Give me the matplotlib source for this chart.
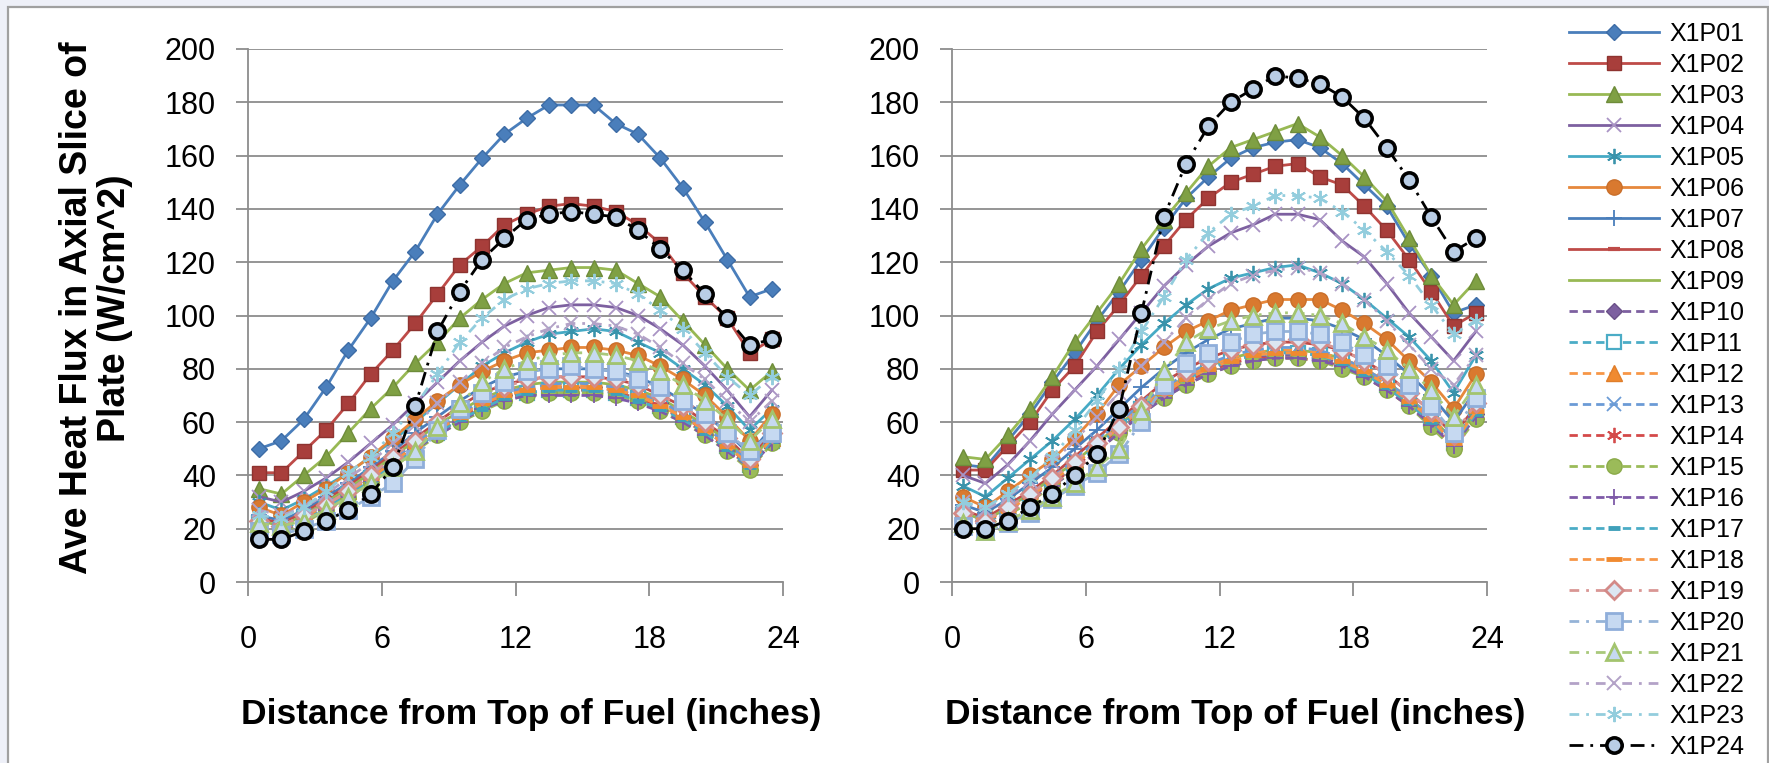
import matplotlib
matplotlib.use("Agg")
import matplotlib.pyplot as plt
from matplotlib.patches import Rectangle

W, H = 1769, 763

# ---------------- data ----------------
x_in = [0.5, 1.5, 2.5, 3.5, 4.5, 5.5, 6.5, 7.5, 8.5, 9.5, 10.5, 11.5,
        12.5, 13.5, 14.5, 15.5, 16.5, 17.5, 18.5, 19.5, 20.5, 21.5, 22.5, 23.5]

labels = ["X1P01", "X1P02", "X1P03", "X1P04", "X1P05", "X1P06", "X1P07", "X1P08",
          "X1P09", "X1P10", "X1P11", "X1P12", "X1P13", "X1P14", "X1P15", "X1P16",
          "X1P17", "X1P18", "X1P19", "X1P20", "X1P21", "X1P22", "X1P23", "X1P24"]

x_ticks = [0, 6, 12, 18, 24]
y_ticks = [0, 20, 40, 60, 80, 100, 120, 140, 160, 180, 200]

# left panel
L01 = [50, 53, 61, 73, 87, 99, 113, 124, 138, 149, 159, 168, 174, 179, 179, 179, 172, 168, 159, 148, 135, 121, 107, 110]
L02 = [41, 41, 49, 57, 67, 78, 87, 97, 108, 119, 126, 134, 138, 141, 142, 141, 139, 134, 127, 116, 107, 99, 86, 91]
L03 = [35, 33, 40, 47, 56, 65, 73, 82, 90, 99, 106, 112, 116, 117, 118, 118, 117, 112, 107, 98, 89, 80, 72, 79]
L04 = [32, 30, 34, 39, 45, 52, 59, 67, 75, 83, 90, 96, 100, 103, 104, 104, 103, 100, 95, 89, 81, 72, 62, 72]
L05 = [30, 27, 31, 36, 41, 47, 53, 60, 67, 74, 81, 86, 90, 93, 94, 95, 94, 90, 86, 80, 74, 66, 57, 65]
L06 = [28, 25, 30, 35, 41, 47, 54, 61, 68, 74, 79, 83, 86, 87, 88, 88, 87, 85, 81, 76, 70, 62, 53, 63]
L07 = [25, 23, 27, 32, 37, 43, 49, 56, 62, 68, 73, 77, 79, 80, 80, 80, 79, 77, 73, 68, 63, 56, 48, 58]
L08 = [24, 22, 26, 31, 36, 42, 48, 54, 60, 66, 71, 74, 76, 77, 77, 77, 76, 74, 70, 66, 60, 54, 46, 56]
L09 = [23, 21, 25, 30, 35, 41, 47, 53, 59, 64, 69, 72, 74, 75, 75, 75, 74, 72, 69, 64, 59, 53, 45, 55]
L10 = [22, 20, 24, 29, 34, 39, 45, 51, 57, 62, 66, 70, 72, 73, 73, 73, 72, 70, 67, 62, 57, 51, 44, 54]
L11 = [22, 20, 24, 28, 33, 39, 45, 51, 56, 62, 66, 69, 71, 72, 72, 72, 71, 69, 66, 62, 57, 51, 44, 53]
L12 = [23, 21, 25, 29, 34, 40, 46, 52, 58, 63, 67, 71, 73, 74, 74, 74, 73, 71, 67, 63, 58, 52, 45, 54]
L13 = [23, 21, 25, 29, 34, 40, 46, 52, 58, 63, 68, 71, 73, 74, 75, 74, 73, 71, 68, 63, 58, 52, 45, 55]
L14 = [22, 20, 24, 28, 33, 39, 45, 51, 56, 61, 66, 69, 71, 72, 72, 72, 71, 69, 66, 61, 56, 50, 43, 53]
L15 = [20, 19, 22, 27, 32, 37, 43, 49, 55, 60, 64, 68, 70, 71, 71, 71, 70, 68, 64, 60, 55, 49, 42, 52]
L16 = [21, 19, 23, 27, 32, 38, 44, 50, 55, 60, 65, 68, 70, 70, 70, 70, 69, 67, 64, 60, 55, 49, 43, 52]
L17 = [21, 20, 23, 28, 33, 38, 44, 50, 56, 61, 65, 69, 71, 72, 72, 72, 71, 68, 65, 61, 56, 50, 43, 53]
L18 = [22, 20, 24, 29, 34, 39, 45, 51, 57, 62, 67, 70, 72, 73, 73, 73, 72, 70, 66, 62, 57, 51, 44, 54]
L19 = [23, 21, 25, 29, 34, 40, 47, 53, 60, 65, 70, 73, 76, 77, 77, 77, 76, 74, 70, 66, 60, 54, 46, 56]
L20 = [19, 18, 20, 23, 27, 32, 37, 46, 57, 65, 71, 75, 79, 80, 81, 80, 79, 76, 73, 68, 63, 56, 49, 56]
L21 = [22, 21, 23, 27, 32, 37, 43, 49, 58, 67, 75, 80, 83, 85, 86, 86, 85, 83, 79, 74, 68, 61, 53, 61]
L22 = [27, 25, 28, 33, 39, 45, 52, 59, 67, 75, 82, 88, 92, 95, 97, 97, 96, 93, 88, 82, 76, 68, 60, 68]
L23 = [25, 24, 28, 34, 41, 47, 56, 66, 78, 90, 99, 106, 110, 112, 113, 113, 112, 108, 102, 95, 86, 77, 70, 77]
L24 = [16, 16, 19, 23, 27, 33, 43, 66, 94, 109, 121, 129, 136, 138, 139, 138, 137, 132, 125, 117, 108, 99, 89, 91]

# right panel
R01 = [44, 43, 53, 63, 75, 86, 98, 109, 121, 133, 144, 152, 159, 163, 165, 166, 163, 157, 149, 141, 127, 115, 101, 104]
R02 = [42, 42, 51, 60, 72, 81, 94, 104, 115, 126, 136, 144, 150, 153, 156, 157, 152, 149, 141, 132, 121, 109, 96, 101]
R03 = [47, 46, 55, 65, 77, 90, 101, 112, 125, 136, 146, 156, 163, 166, 169, 172, 167, 160, 152, 143, 129, 115, 104, 113]
R04 = [40, 37, 44, 53, 63, 72, 81, 91, 101, 111, 119, 126, 131, 134, 138, 138, 136, 128, 122, 112, 101, 92, 83, 94]
R05 = [36, 32, 39, 46, 53, 61, 70, 80, 89, 97, 104, 110, 114, 116, 118, 119, 116, 112, 106, 99, 92, 83, 71, 85]
R06 = [32, 28, 34, 40, 46, 54, 63, 74, 81, 88, 94, 98, 102, 104, 106, 106, 106, 102, 97, 91, 83, 75, 65, 78]
R07 = [29, 26, 31, 37, 43, 50, 57, 65, 73, 80, 86, 91, 95, 97, 99, 99, 98, 95, 91, 85, 78, 70, 60, 72]
R08 = [27, 24, 29, 34, 40, 47, 54, 61, 68, 75, 80, 84, 87, 89, 90, 90, 89, 87, 83, 78, 71, 64, 55, 66]
R09 = [26, 23, 28, 33, 39, 45, 52, 59, 66, 72, 77, 81, 84, 86, 87, 87, 86, 84, 80, 75, 69, 62, 53, 64]
R10 = [25, 22, 27, 32, 37, 43, 50, 57, 64, 70, 75, 79, 82, 84, 85, 85, 84, 82, 78, 73, 67, 60, 51, 63]
R11 = [25, 22, 27, 32, 38, 44, 51, 58, 65, 71, 76, 80, 83, 85, 86, 86, 85, 83, 79, 74, 68, 61, 52, 63]
R12 = [26, 23, 28, 33, 39, 45, 52, 59, 66, 72, 77, 81, 84, 86, 87, 87, 86, 84, 80, 75, 69, 62, 53, 64]
R13 = [26, 23, 28, 33, 39, 46, 53, 60, 67, 73, 78, 82, 85, 87, 88, 88, 87, 84, 80, 75, 69, 62, 53, 65]
R14 = [24, 22, 27, 32, 37, 43, 50, 57, 64, 70, 75, 79, 82, 84, 84, 84, 83, 81, 77, 72, 66, 59, 50, 62]
R15 = [23, 21, 25, 30, 36, 42, 49, 56, 63, 69, 74, 78, 81, 83, 84, 84, 83, 80, 77, 72, 66, 58, 50, 61]
R16 = [24, 21, 26, 31, 36, 42, 49, 56, 63, 69, 74, 78, 81, 83, 84, 84, 83, 81, 77, 72, 66, 59, 51, 62]
R17 = [25, 22, 27, 32, 38, 44, 51, 58, 65, 71, 76, 80, 83, 85, 86, 86, 85, 82, 78, 73, 67, 60, 52, 63]
R18 = [25, 23, 27, 32, 38, 44, 51, 58, 65, 71, 76, 80, 83, 85, 86, 86, 85, 83, 79, 74, 68, 61, 52, 64]
R19 = [26, 23, 28, 33, 39, 45, 52, 58, 66, 73, 79, 83, 87, 89, 90, 91, 90, 87, 83, 78, 71, 64, 55, 67]
R20 = [21, 19, 22, 26, 31, 36, 41, 48, 60, 74, 82, 86, 90, 93, 94, 94, 93, 90, 85, 81, 74, 66, 56, 69]
R21 = [22, 19, 23, 27, 32, 37, 43, 50, 64, 79, 90, 95, 98, 100, 101, 101, 100, 97, 92, 87, 80, 72, 62, 74]
R22 = [30, 27, 32, 38, 45, 53, 62, 71, 81, 90, 99, 106, 112, 115, 117, 118, 116, 112, 106, 98, 89, 80, 74, 85]
R23 = [30, 28, 33, 39, 47, 57, 68, 80, 94, 107, 121, 131, 138, 141, 145, 145, 144, 139, 132, 124, 115, 104, 93, 98]
R24 = [20, 20, 23, 28, 33, 40, 48, 65, 101, 137, 157, 171, 180, 185, 190, 189, 187, 182, 174, 163, 151, 137, 124, 129]

left_series = [L01, L02, L03, L04, L05, L06, L07, L08, L09, L10, L11, L12,
               L13, L14, L15, L16, L17, L18, L19, L20, L21, L22, L23, L24]
right_series = [R01, R02, R03, R04, R05, R06, R07, R08, R09, R10, R11, R12,
                R13, R14, R15, R16, R17, R18, R19, R20, R21, R22, R23, R24]

# ---------------- styles ----------------
AST = (6, 2, 0)
DASH = (0, (3.0, 1.8))
DDOT = (0, (5.0, 2.5, 1.0, 2.5))
DDOT2 = (0, (3.5, 2.5, 1.0, 2.5))
styles = [
    dict(color="#4A7EBB", ls="-", marker="D", ms=8.5, mfc="#4A7EBB", mec="#3D6CA6"),
    dict(color="#BE4B48", ls="-", marker="s", ms=10.5, mfc="#A83E3B", mec="#8E3330"),
    dict(color="#98B954", ls="-", marker="^", ms=11, mfc="#7FA044", mec="#6E8C3A"),
    dict(color="#7D60A0", ls="-", marker="x", ms=10, mfc="none", mec="#A993C4", mew=1.3),
    dict(color="#46AAC5", ls="-", marker=AST, ms=11, mfc="none", mec="#3A93AB", mew=1.3),
    dict(color="#E6883C", ls="-", marker="o", ms=11, mfc="#D9792F", mec="#C96E2A"),
    dict(color="#4A7EBB", ls="-", marker="+", ms=11, mfc="none", mec="#4A7EBB", mew=1.3),
    dict(color="#BE4B48", ls="-", marker="_", ms=9, mfc="none", mec="#BE4B48", mew=3),
    dict(color="#98B954", ls="-", marker="None", ms=0),
    dict(color="#7D60A0", ls=DASH, marker="D", ms=8.5, mfc="#7D60A0", mec="#6A5088"),
    dict(color="#4BACC6", ls=DASH, marker="s", ms=10, mfc="white", mec="#4BACC6", mew=1.6),
    dict(color="#F79646", ls=DASH, marker="^", ms=11, mfc="#F08A30", mec="#E07E2A"),
    dict(color="#6B9BD6", ls=DASH, marker="x", ms=10, mfc="none", mec="#6B9BD6", mew=1.3),
    dict(color="#D44A4A", ls=DASH, marker=AST, ms=11, mfc="none", mec="#D44A4A", mew=1.3),
    dict(color="#9BBB59", ls=DASH, marker="o", ms=11, mfc="#9BBB59", mec="#8AAA48"),
    dict(color="#7E5AA8", ls=DASH, marker="+", ms=11, mfc="none", mec="#7E5AA8", mew=1.3),
    dict(color="#4BACC6", ls=DASH, marker="_", ms=9, mfc="none", mec="#3FA0BA", mew=3.5),
    dict(color="#F79646", ls=DASH, marker="_", ms=12, mfc="none", mec="#F08A30", mew=3.5),
    dict(color="#D99694", ls=DDOT2, marker="D", ms=9, mfc="#DCE6F2", mec="#D38A88", mew=2),
    dict(color="#95B3D7", ls=DDOT2, marker="s", ms=11, mfc="#C6D9F1", mec="#8FAEDA", mew=2),
    dict(color="#A9C97B", ls=DDOT2, marker="^", ms=11.5, mfc="#C6D9F1", mec="#A3C46E", mew=2),
    dict(color="#B3A2C7", ls=DDOT2, marker="x", ms=10, mfc="none", mec="#B3A2C7", mew=1.4),
    dict(color="#93CDDD", ls=DDOT2, marker=AST, ms=11, mfc="none", mec="#93CDDD", mew=1.4),
    dict(color="#000000", ls=DDOT, marker="o", ms=11, mfc="#B9CDE5", mec="#000000", mew=2.6),
]

FONT = "Liberation Sans"
plt.rcParams["font.family"] = [FONT, "DejaVu Sans"]
GRID = "#8C8C8C"

fig = plt.figure(figsize=(W / 100, H / 100), dpi=100)
fig.patch.set_facecolor("white")

# outer frame of the chart area
fig.patches.append(Rectangle((0, 0), 1, 1, transform=fig.transFigure,
                             facecolor="#EEF0F8", edgecolor="none", zorder=-3))
fig.patches.append(Rectangle((8 / W, -0.01), (1768 - 8) / W, (763 - 7) / H + 0.01,
                             transform=fig.transFigure, facecolor="white",
                             edgecolor="#A0A0A0", linewidth=1.6, zorder=-2))

ax_y0, ax_y1 = 582, 49
ax1 = fig.add_axes([248 / W, 1 - ax_y0 / H, (783 - 248) / W, (ax_y0 - ax_y1) / H])
ax2 = fig.add_axes([952 / W, 1 - ax_y0 / H, (1487 - 952) / W, (ax_y0 - ax_y1) / H])

handles = []
for ax, data in ((ax1, left_series), (ax2, right_series)):
    ax.set_facecolor("none")
    for i, (ys, st) in enumerate(zip(data, styles)):
        st = dict(st)
        c = st.pop("color")
        ls = st.pop("ls")
        line, = ax.plot(x_in, ys, color=c, linestyle=ls, linewidth=2.0,
                        label=labels[i], zorder=3 + i * 0.01, **st)
        if ax is ax1:
            handles.append(line)
    ax.set_xlim(0, 24)
    ax.set_ylim(0, 200)
    ax.set_xticks(x_ticks)
    ax.set_yticks(y_ticks)
    ax.yaxis.grid(True, color=GRID, linewidth=1.3)
    ax.set_axisbelow(True)
    for s in ("top", "right"):
        ax.spines[s].set_visible(False)
    for s in ("left", "bottom"):
        ax.spines[s].set_color(GRID)
        ax.spines[s].set_linewidth(1.3)
    ax.tick_params(axis="y", direction="out", length=9, width=1.3, color=GRID,
                   pad=14, labelsize=22)
    ax.tick_params(axis="x", direction="out", length=10, width=1.3, color=GRID,
                   pad=21, labelsize=22)
    ax.set_xlabel("Distance from Top of Fuel (inches)", fontsize=25.5,
                  fontweight="bold", labelpad=31)
    ax.xaxis.label.set_x(0.53)

fig.text(96 / W, 1 - 308 / H, "Ave Heat Flux in Axial Slice of\nPlate (W/cm^2)",
         rotation=90, ha="center", va="center", multialignment="center",
         fontsize=27, fontweight="bold", linespacing=1.05)

fig.legend(handles=handles, labels=labels, loc="upper left",
           bbox_to_anchor=(1569 / W, 1 - 22 / H), frameon=False,
           fontsize=18, handlelength=3.6, handletextpad=0.4,
           labelspacing=0.28, borderpad=0, borderaxespad=0, numpoints=1)

fig.savefig("out.png", dpi=100, facecolor=fig.get_facecolor())
